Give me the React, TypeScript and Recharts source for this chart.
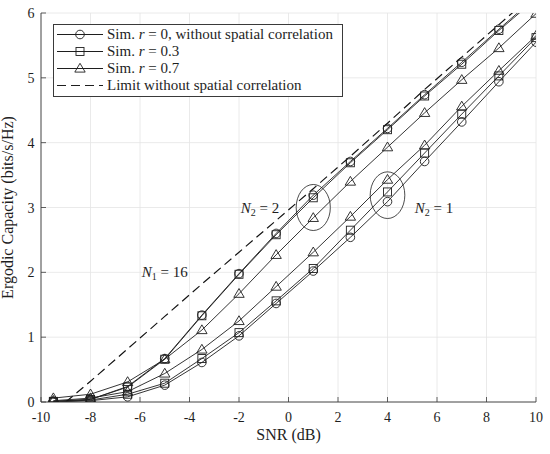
import React from 'react';
import {
  LineChart,
  Line,
  XAxis,
  YAxis,
  CartesianGrid,
  Legend,
  ReferenceArea,
  ReferenceDot,
} from 'recharts';

// SNR sample points (dB)
const snr = [-9.5, -8, -6.5, -5, -3.5, -2, -0.5, 1, 2.5, 4, 5.5, 7, 8.5, 10];

// N2 = 2 curves
const n2r0 = [0.01, 0.04, 0.24, 0.67, 1.34, 1.98, 2.6, 3.19, 3.71, 4.22, 4.74, 5.24, 5.75, 6.25];
const n2r03 = [0.01, 0.04, 0.23, 0.66, 1.33, 1.97, 2.58, 3.15, 3.69, 4.2, 4.72, 5.21, 5.73, 6.22];
const n2r07 = [0.06, 0.12, 0.31, 0.66, 1.11, 1.67, 2.27, 2.84, 3.4, 3.93, 4.46, 4.97, 5.46, 5.99];

// N2 = 1 curves
const n1r0 = [0.0, 0.02, 0.08, 0.26, 0.61, 1.02, 1.52, 2.02, 2.54, 3.09, 3.71, 4.32, 4.94, 5.55];
const n1r03 = [0.0, 0.03, 0.12, 0.29, 0.67, 1.07, 1.56, 2.06, 2.65, 3.24, 3.84, 4.44, 5.03, 5.62];
const n1r07 = [0.02, 0.06, 0.16, 0.44, 0.81, 1.25, 1.78, 2.31, 2.86, 3.43, 3.96, 4.56, 5.11, 5.65];

// Limit without spatial correlation (dashed)
const limitSnr = [-9, -8, -6.5, -5, -3.5, -2, -0.5, 1, 2.5, 4, 5.5, 7, 8.5, 10];
const limitCap = [0, 0.32, 0.82, 1.32, 1.82, 2.31, 2.8, 3.29, 3.79, 4.3, 4.82, 5.32, 5.82, 6.32];

const xTicks = [-10, -8, -6, -4, -2, 0, 2, 4, 6, 8, 10];
const yTicks = [0, 1, 2, 3, 4, 5, 6];

const legendNames = [
  'Sim. r = 0, without spatial correlation',
  'Sim. r = 0.3',
  'Sim. r = 0.7',
  'Limit without spatial correlation',
];
const legendKinds = ['circle', 'square', 'triangle', 'dash'];

const simData = snr.map((s, i) => ({
  snr: s,
  a0: n2r0[i],
  a3: n2r03[i],
  a7: n2r07[i],
  b0: n1r0[i],
  b3: n1r03[i],
  b7: n1r07[i],
}));
const limitData = limitSnr.map((s, i) => ({ snr: s, lim: limitCap[i] }));

const FONT = '"Liberation Serif", "Times New Roman", serif';
const INK = '#1e1e1e';
const FRAME = '#3a3a3a';
const GRID = '#e4e4e4';
const DASH = '9 5';

function markerShape(kind: string, cx: number, cy: number, key?: string) {
  const common = { fill: 'none', stroke: INK, strokeWidth: 0.9 };
  if (kind === 'circle') return <circle key={key} cx={cx} cy={cy} r={4.3} {...common} />;
  if (kind === 'square') return <rect key={key} x={cx - 4} y={cy - 4} width={8} height={8} {...common} />;
  if (kind === 'triangle')
    return (
      <polygon
        key={key}
        points={`${cx},${cy - 5.2} ${cx - 5.2},${cy + 3.6} ${cx + 5.2},${cy + 3.6}`}
        {...common}
      />
    );
  return null;
}

const makeDot = (kind: string) => (props: any) => {
  const { cx, cy, index } = props;
  if (cx == null || cy == null) return <g key={`${kind}-${index}`} />;
  return markerShape(kind, cx, cy, `${kind}-${props.dataKey}-${index}`);
};

const XTick = (props: any) => {
  const { x, y, payload } = props;
  return (
    <g>
      <line x1={x} x2={x} y1={y} y2={y - 5} stroke={FRAME} strokeWidth={0.8} />
      <text x={x} y={y + 20} textAnchor="middle" fontFamily={FONT} fontSize={14} fill={INK}>
        {payload.value}
      </text>
    </g>
  );
};

const YTick = (props: any) => {
  const { x, y, payload } = props;
  return (
    <g>
      <line x1={x} x2={x + 5} y1={y} y2={y} stroke={FRAME} strokeWidth={0.8} />
      <text x={x - 6.5} y={y + 5} textAnchor="end" fontFamily={FONT} fontSize={14} fill={INK}>
        {payload.value}
      </text>
    </g>
  );
};

function renderLegendLabel(name: string) {
  if (name.startsWith('Sim. r')) {
    return (
      <>
        Sim. <i>r</i>
        {name.slice(6)}
      </>
    );
  }
  return name;
}

const LegendBox = (props: any) => {
  const payload: any[] = props.payload || [];
  const names = legendNames.filter(
    (n) => payload.length === 0 || payload.some((p) => p.value === n)
  );
  return (
    <div
      style={{
        border: `1px solid ${FRAME}`,
        background: '#fff',
        width: 288,
        padding: '1px 0 2px 0',
        fontFamily: FONT,
        fontSize: 15,
        color: INK,
        boxSizing: 'content-box',
      }}
    >
      {names.map((n) => {
        const kind = legendKinds[legendNames.indexOf(n)];
        return (
          <div key={n} style={{ height: 17, display: 'flex', alignItems: 'center', whiteSpace: 'nowrap' }}>
            <svg width={52} height={17} style={{ flex: 'none' }}>
              <line
                x1={3}
                x2={49}
                y1={8.5}
                y2={8.5}
                stroke={INK}
                strokeWidth={1}
                strokeDasharray={kind === 'dash' ? DASH : undefined}
              />
              {markerShape(kind, 26, 8.5)}
            </svg>
            <span style={{ marginLeft: 1, lineHeight: '17px' }}>{renderLegendLabel(n)}</span>
          </div>
        );
      })}
    </div>
  );
};

const EllipseShape = (props: any) => {
  const { x, y, width, height } = props;
  if ([x, y, width, height].some((v) => typeof v !== 'number')) return null;
  return (
    <ellipse
      cx={x + width / 2}
      cy={y + height / 2}
      rx={Math.abs(width) / 2}
      ry={Math.abs(height) / 2}
      fill="none"
      stroke={INK}
      strokeWidth={0.8}
    />
  );
};

const NLabel = (sub: string, val: string) => (props: any) => {
  const { cx, cy } = props;
  if (typeof cx !== 'number' || typeof cy !== 'number') return null;
  return (
    <text x={cx} y={cy + 5} textAnchor="middle" fontFamily={FONT} fontSize={15} fill={INK}>
      <tspan fontStyle="italic">N</tspan>
      <tspan fontSize={10} dy={3}>
        {sub}
      </tspan>
      <tspan dy={-3}>{` = ${val}`}</tspan>
    </text>
  );
};

export default function App() {
  return (
    <div style={{ width: 550, height: 454, background: '#fff' }}>
      <style>{'body{margin:0;background:#fff;}'}</style>
      <LineChart
        width={550}
        height={454}
        data={simData}
        margin={{ top: 13, right: 14, bottom: 0, left: 0 }}
      >
        <CartesianGrid stroke={GRID} strokeWidth={0.8} />
        <XAxis
          dataKey="snr"
          type="number"
          domain={[-10, 10]}
          ticks={xTicks}
          interval={0}
          height={52}
          tickSize={0}
          tickMargin={0}
          tickLine={false}
          tick={<XTick />}
          axisLine={{ stroke: FRAME, strokeWidth: 0.9 }}
          allowDataOverflow
          label={{
            value: 'SNR (dB)',
            position: 'insideBottom',
            offset: 14,
            style: { fontFamily: FONT, fontSize: 16, fill: INK },
          }}
        />
        <XAxis
          xAxisId="top"
          dataKey="snr"
          type="number"
          orientation="top"
          mirror
          height={0}
          domain={[-10, 10]}
          ticks={xTicks}
          interval={0}
          tick={false}
          tickSize={5}
          tickLine={{ stroke: FRAME, strokeWidth: 0.8 }}
          axisLine={{ stroke: FRAME, strokeWidth: 0.9 }}
        />
        <YAxis
          type="number"
          domain={[0, 6]}
          ticks={yTicks}
          interval={0}
          width={41}
          tickSize={0}
          tickMargin={0}
          tickLine={false}
          tick={<YTick />}
          axisLine={{ stroke: FRAME, strokeWidth: 0.9 }}
          allowDataOverflow
          label={{
            value: 'Ergodic Capacity (bits/s/Hz)',
            angle: -90,
            position: 'insideLeft',
            offset: 7.5,
            style: { fontFamily: FONT, fontSize: 16, fill: INK, textAnchor: 'middle' },
          }}
        />
        <YAxis
          yAxisId="right"
          type="number"
          orientation="right"
          mirror
          width={0}
          domain={[0, 6]}
          ticks={yTicks}
          interval={0}
          tick={false}
          tickSize={5}
          tickLine={{ stroke: FRAME, strokeWidth: 0.8 }}
          axisLine={{ stroke: FRAME, strokeWidth: 0.9 }}
        />

        <Line
          dataKey="a0"
          name={legendNames[0]}
          stroke={INK}
          strokeWidth={0.9}
          dot={makeDot('circle')}
          isAnimationActive={false}
        />
        <Line
          dataKey="a3"
          name={legendNames[1]}
          stroke={INK}
          strokeWidth={0.9}
          dot={makeDot('square')}
          isAnimationActive={false}
        />
        <Line
          dataKey="a7"
          name={legendNames[2]}
          stroke={INK}
          strokeWidth={0.9}
          dot={makeDot('triangle')}
          isAnimationActive={false}
        />
        <Line
          data={limitData}
          dataKey="lim"
          name={legendNames[3]}
          stroke="#111"
          strokeWidth={1.15}
          strokeDasharray={DASH}
          dot={false}
          isAnimationActive={false}
        />
        <Line
          dataKey="b0"
          name="N2=1 r=0"
          legendType="none"
          stroke={INK}
          strokeWidth={0.9}
          dot={makeDot('circle')}
          isAnimationActive={false}
        />
        <Line
          dataKey="b3"
          name="N2=1 r=0.3"
          legendType="none"
          stroke={INK}
          strokeWidth={0.9}
          dot={makeDot('square')}
          isAnimationActive={false}
        />
        <Line
          dataKey="b7"
          name="N2=1 r=0.7"
          legendType="none"
          stroke={INK}
          strokeWidth={0.9}
          dot={makeDot('triangle')}
          isAnimationActive={false}
        />

        <ReferenceArea x1={0.31} x2={1.69} y1={2.645} y2={3.355} shape={EllipseShape} ifOverflow="visible" />
        <ReferenceArea x1={3.3} x2={4.7} y1={2.83} y2={3.55} shape={EllipseShape} ifOverflow="visible" />

        <ReferenceDot x={-5.0} y={2.0} r={0} shape={NLabel('1', '16')} ifOverflow="visible" />
        <ReferenceDot x={-1.15} y={2.99} r={0} shape={NLabel('2', '2')} ifOverflow="visible" />
        <ReferenceDot x={5.88} y={3.0} r={0} shape={NLabel('2', '1')} ifOverflow="visible" />

        <Legend
          layout="vertical"
          align="center"
          verticalAlign="middle"
          content={<LegendBox />}
          wrapperStyle={{ position: 'absolute', left: 53, top: 24, width: 'auto', height: 'auto' }}
        />
      </LineChart>
    </div>
  );
}
